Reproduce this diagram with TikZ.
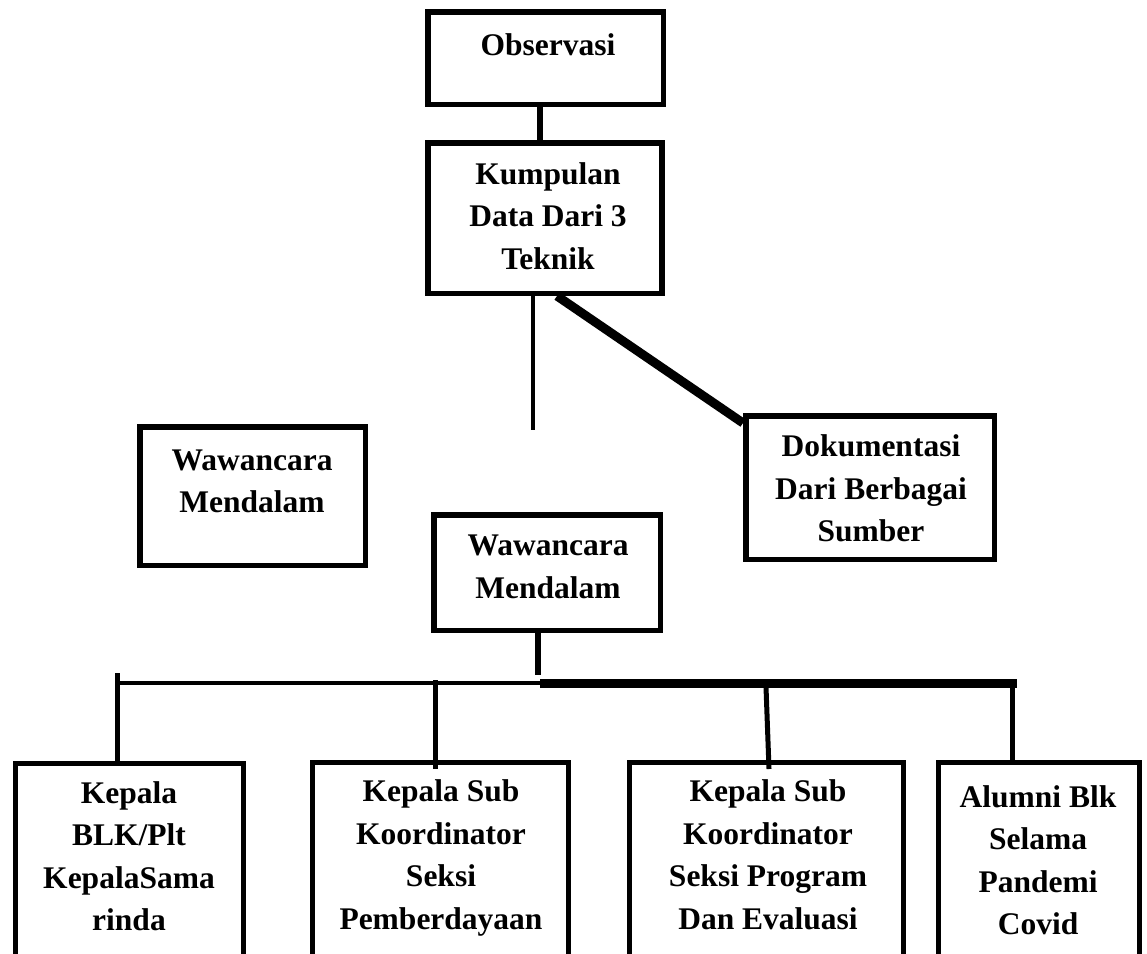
\documentclass[tikz,border=0pt]{standalone}
\usepackage{fontspec}
\setmainfont{Liberation Serif}
\usetikzlibrary{calc}
\tikzset{
  box/.style={draw=black, line width=5.5pt, inner sep=0pt, minimum width=#1},
  lowbox/.style={draw=black, line width=5pt, inner sep=0pt, minimum width=#1, minimum height=260pt, anchor=north},
  txt/.style={align=center, anchor=base, inner sep=0pt, font=\fontsize{31.5}{42.5}\selectfont\bfseries},
  conn/.style={draw=black, line width=#1},
}
\begin{document}
\begin{tikzpicture}[x=1pt,y=-1pt]
\useasboundingbox (0,0) rectangle (1147,953);
\clip (0,0) rectangle (1147,953);
% boxes
\node[box=235.5pt, minimum height=92.5pt] (obs) at (545.5,58) {};
\node[box=234pt, minimum height=150.5pt] (kum) at (545,218) {};
\node[box=225.5pt, minimum height=138.5pt] (wl) at (252.5,496) {};
\node[box=248.5pt, minimum height=143.5pt] (doc) at (870,487.5) {};
\node[box=226.5pt, minimum height=115.5pt] (wc) at (547,572.5) {};
\node[lowbox=228pt] (b1) at (129.5,760.5) {};
\node[lowbox=256pt] (b2) at (440.5,760) {};
\node[lowbox=274pt] (b3) at (766.5,760) {};
\node[lowbox=201pt] (b4) at (1039,760) {};
% texts (anchored at the baseline of the last line)
\node[txt] (tobs) at (548,55) {Observasi};
\node[txt] (tkum) at (548,269) {Kumpulan\\Data Dari 3\\Teknik};
\node[txt] (twl) at (252,512.5) {Wawancara\\Mendalam};
\node[txt] (twc) at (548,598) {Wawancara\\Mendalam};
\node[txt] (tdoc) at (871,541.5) {Dokumentasi\\Dari Berbagai\\Sumber};
\node[txt] (tb1) at (129,930.5) {Kepala\\BLK/Plt\\KepalaSama\\rinda};
\node[txt] (tb2) at (441,929) {Kepala Sub\\Koordinator\\Seksi\\Pemberdayaan};
\node[txt] (tb3) at (768,929) {Kepala Sub\\Koordinator\\Seksi Program\\Dan Evaluasi};
\node[txt] (tb4) at (1038,934.5) {Alumni Blk\\Selama\\Pandemi\\Covid};
% connectors
\draw[conn=6.5pt] ([xshift=-5.5pt]obs.south) -- ([xshift=-5pt]kum.north);
\coordinate (kend) at (533,430);
\draw[conn=4.5pt] (kum.south -| kend) -- (kend);
\draw[conn=9pt] ([xshift=12pt]kum.south) -- ([yshift=-10pt]doc.north west);
\coordinate (wcend) at (538,675);
\draw[conn=6pt] (wc.south -| wcend) -- (wcend);
\coordinate (hl) at (117,683);
\coordinate (hm) at (540,683);
\coordinate (hr) at (1017,683);
\draw[conn=4.5pt] (hl) -- (hm);
\draw[conn=9pt] (hm) -- (hr);
\coordinate (j1) at (117,673);
\coordinate (j2) at (435,680);
\coordinate (j3) at (766,687);
\coordinate (j4) at (1012,687);
\draw[conn=5pt] (j1) -- ([yshift=-3pt]j1 |- b1.north);
\draw[conn=5pt] (j2) -- ([yshift=-9pt]j2 |- b2.north);
\draw[conn=5pt] (j3) -- ([xshift=3pt,yshift=-9pt]j3 |- b3.north);
\draw[conn=5pt] (j4) -- ([yshift=-5pt]j4 |- b4.north);
\end{tikzpicture}
\end{document}
